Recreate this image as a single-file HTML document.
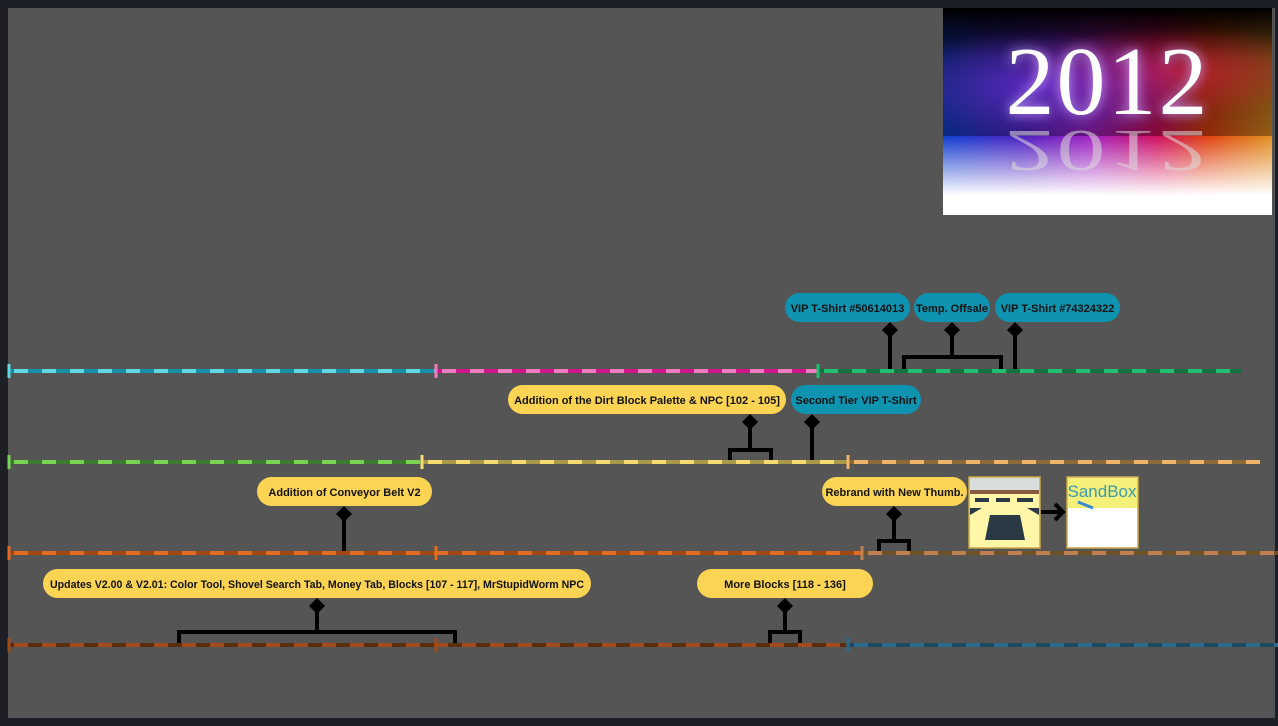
<!DOCTYPE html>
<html><head><meta charset="utf-8"><style>
html,body{margin:0;padding:0;background:#1c2026;}
body{width:1278px;height:726px;position:relative;overflow:hidden;font-family:"Liberation Sans",sans-serif;}
#bg{position:absolute;left:8px;top:8px;width:1267px;height:710px;background:#555555;}
#img2012{position:absolute;left:943px;top:8px;width:329px;height:207px;overflow:hidden;
background:linear-gradient(90deg,#1040d0 0%,#5020c0 25%,#a020c0 45%,#d01060 65%,#e04010 80%,#e09020 100%);}
#img2012 .top{position:absolute;left:0;top:0;width:100%;height:128px;
background:radial-gradient(ellipse at 30% 60%,rgba(120,60,255,.6),transparent 50%),radial-gradient(ellipse at 70% 50%,rgba(255,40,80,.5),transparent 50%),linear-gradient(180deg,#000 0%,rgba(0,0,0,.55) 40%,rgba(0,0,0,.35) 100%);}
#img2012 .bot{position:absolute;left:0;top:128px;width:100%;height:79px;
background:linear-gradient(180deg,rgba(255,255,255,0) 0%,rgba(255,255,255,.6) 45%,#fff 75%);}
#img2012 .t{position:absolute;left:0;width:100%;text-align:center;font-family:"Liberation Serif",serif;color:#fff;font-size:98px;letter-spacing:2px;}
svg{position:absolute;left:0;top:0;}
svg text{font-family:"Liberation Sans",sans-serif;font-weight:bold;font-size:11px;fill:#111;}
</style></head><body>
<div id="bg"></div>
<div id="img2012"><div class="top"></div><div class="bot"></div>
<div class="t" style="top:18px;text-shadow:0 0 12px #c8a0ff;">2012</div>
<div class="t" style="top:86px;transform:scaleY(-0.6);opacity:.55;color:#ddd;">2012</div></div>
<svg width="1278" height="726">
<g stroke-width="4" fill="none">
<line x1="8" y1="371" x2="436" y2="371" stroke="#1590a8"/><line x1="8" y1="371" x2="436" y2="371" stroke="#5fd8e2" stroke-dasharray="14 14" stroke-dashoffset="-6"/>
<line x1="436" y1="371" x2="818" y2="371" stroke="#d0148a"/><line x1="436" y1="371" x2="818" y2="371" stroke="#f07cc0" stroke-dasharray="14 14" stroke-dashoffset="-6"/>
<line x1="818" y1="371" x2="1242" y2="371" stroke="#137340"/><line x1="818" y1="371" x2="1242" y2="371" stroke="#1fc070" stroke-dasharray="14 14" stroke-dashoffset="-6"/>
<line x1="8" y1="462" x2="422" y2="462" stroke="#3c7a30"/><line x1="8" y1="462" x2="422" y2="462" stroke="#7ad454" stroke-dasharray="14 14" stroke-dashoffset="-6"/>
<line x1="422" y1="462" x2="848" y2="462" stroke="#a89a48"/><line x1="422" y1="462" x2="848" y2="462" stroke="#f6dc70" stroke-dasharray="14 14" stroke-dashoffset="-6"/>
<line x1="848" y1="462" x2="1260" y2="462" stroke="#8a6a36"/><line x1="848" y1="462" x2="1260" y2="462" stroke="#f0b468" stroke-dasharray="14 14" stroke-dashoffset="-6"/>
<line x1="8" y1="553" x2="862" y2="553" stroke="#a04812"/><line x1="8" y1="553" x2="862" y2="553" stroke="#e06a20" stroke-dasharray="14 14" stroke-dashoffset="-6"/>
<line x1="862" y1="553" x2="1278" y2="553" stroke="#6e5228"/><line x1="862" y1="553" x2="1278" y2="553" stroke="#c08050" stroke-dasharray="14 14" stroke-dashoffset="-6"/>
<line x1="8" y1="645" x2="848" y2="645" stroke="#5c2e10"/><line x1="8" y1="645" x2="848" y2="645" stroke="#a04c1a" stroke-dasharray="14 14" stroke-dashoffset="-6"/>
<line x1="848" y1="645" x2="1278" y2="645" stroke="#1c4a60"/><line x1="848" y1="645" x2="1278" y2="645" stroke="#2c6c8a" stroke-dasharray="14 14" stroke-dashoffset="-6"/>
</g>
<g stroke-width="3">
<line x1="9" y1="364" x2="9" y2="378" stroke="#5fd8e2"/><line x1="436" y1="364" x2="436" y2="378" stroke="#f07cc0"/><line x1="818" y1="364" x2="818" y2="378" stroke="#1fc070"/>
<line x1="9" y1="455" x2="9" y2="469" stroke="#7ad454"/><line x1="422" y1="455" x2="422" y2="469" stroke="#f6dc70"/><line x1="848" y1="455" x2="848" y2="469" stroke="#f0b468"/>
<line x1="9" y1="546" x2="9" y2="560" stroke="#e06a20"/><line x1="436" y1="546" x2="436" y2="560" stroke="#e06a20"/><line x1="862" y1="546" x2="862" y2="560" stroke="#c08050"/>
<line x1="9" y1="638" x2="9" y2="652" stroke="#a04c1a"/><line x1="436" y1="638" x2="436" y2="652" stroke="#a04c1a"/><line x1="848" y1="638" x2="848" y2="652" stroke="#2c6c8a"/>
</g>
<g stroke="#000" stroke-width="4" fill="none">
<line x1="890" y1="330" x2="890" y2="369"/>
<line x1="952" y1="330" x2="952" y2="357"/><polyline points="904,369 904,357 1001,357 1001,369"/>
<line x1="1015" y1="330" x2="1015" y2="369"/>
<line x1="750" y1="422" x2="750" y2="450"/><polyline points="730,460 730,450 771,450 771,460"/>
<line x1="812" y1="422" x2="812" y2="460"/>
<line x1="344" y1="514" x2="344" y2="551"/>
<line x1="894" y1="514" x2="894" y2="541"/><polyline points="879,551 879,541 909,541 909,551"/>
<line x1="317" y1="606" x2="317" y2="632"/><polyline points="179,643 179,632 455,632 455,643"/>
<line x1="785" y1="606" x2="785" y2="632"/><polyline points="770,643 770,632 800,632 800,643"/>
</g>
<g fill="#000">
<polygon points="890,322 898,330 890,338 882,330"/><polygon points="952,322 960,330 952,338 944,330"/><polygon points="1015,322 1023,330 1015,338 1007,330"/>
<polygon points="750,414 758,422 750,430 742,422"/><polygon points="812,414 820,422 812,430 804,422"/>
<polygon points="344,506 352,514 344,522 336,514"/><polygon points="894,506 902,514 894,522 886,514"/>
<polygon points="317,598 325,606 317,614 309,606"/><polygon points="785,598 793,606 785,614 777,606"/>
</g>
<g>
<rect x="785" y="293" width="125" height="29" rx="14.5" fill="#0e93b0"/><text x="847.5" y="312" text-anchor="middle">VIP T-Shirt #50614013</text>
<rect x="914" y="293" width="76" height="29" rx="14.5" fill="#0e93b0"/><text x="952" y="312" text-anchor="middle">Temp. Offsale</text>
<rect x="995" y="293" width="125" height="29" rx="14.5" fill="#0e93b0"/><text x="1057.5" y="312" text-anchor="middle">VIP T-Shirt #74324322</text>
<rect x="508" y="385" width="278" height="29" rx="14.5" fill="#fcd453"/><text x="647" y="404" text-anchor="middle">Addition of the Dirt Block Palette &amp; NPC [102 - 105]</text>
<rect x="791" y="385" width="130" height="29" rx="14.5" fill="#0e93b0"/><text x="856" y="404" text-anchor="middle">Second Tier VIP T-Shirt</text>
<rect x="257" y="477" width="175" height="29" rx="14.5" fill="#fcd453"/><text x="344.5" y="496" text-anchor="middle">Addition of Conveyor Belt V2</text>
<rect x="822" y="477" width="145" height="29" rx="14.5" fill="#fcd453"/><text x="894.5" y="496" text-anchor="middle">Rebrand with New Thumb.</text>
<rect x="43" y="569" width="548" height="29" rx="14.5" fill="#fcd453"/><text x="50" y="588" textLength="534" lengthAdjust="spacingAndGlyphs">Updates V2.00 &amp; V2.01: Color Tool, Shovel Search Tab, Money Tab, Blocks [107 - 117], MrStupidWorm NPC</text>
<rect x="697" y="569" width="176" height="29" rx="14.5" fill="#fcd453"/><text x="785" y="588" text-anchor="middle">More Blocks [118 - 136]</text>
</g>
<g>
<rect x="969" y="477" width="71" height="71" fill="#fff6a8" stroke="#c8a84a" stroke-width="1.5"/>
<rect x="970" y="478" width="69" height="13" fill="#d8dcdc"/>
<rect x="970" y="490" width="69" height="4" fill="#8a5a40"/>
<polygon points="990,515 1020,515 1025,540 985,540" fill="#2a3a44"/>
<rect x="975" y="498" width="14" height="4" fill="#2a3a44"/><rect x="996" y="498" width="14" height="4" fill="#2a3a44"/><rect x="1017" y="498" width="16" height="4" fill="#2a3a44"/>
<polygon points="970,508 982,508 970,515" fill="#2a3a44"/><polygon points="1027,508 1039,508 1039,515" fill="#2a3a44"/>
<line x1="1041" y1="512" x2="1062" y2="512" stroke="#000" stroke-width="4"/>
<polyline points="1055,504 1063,512 1055,520" fill="none" stroke="#000" stroke-width="4"/>
<rect x="1067" y="477" width="71" height="71" fill="#fff" stroke="#c8a84a" stroke-width="1.5"/>
<rect x="1068" y="478" width="69" height="30" fill="#f4f07a"/>
<text x="1102" y="497" text-anchor="middle" style="font-size:17px;font-weight:normal;fill:#3a9ab0;">SandBox</text>
<line x1="1078" y1="502" x2="1093" y2="508" stroke="#3a8ad0" stroke-width="3"/>
</g>
</svg>
</body></html>
